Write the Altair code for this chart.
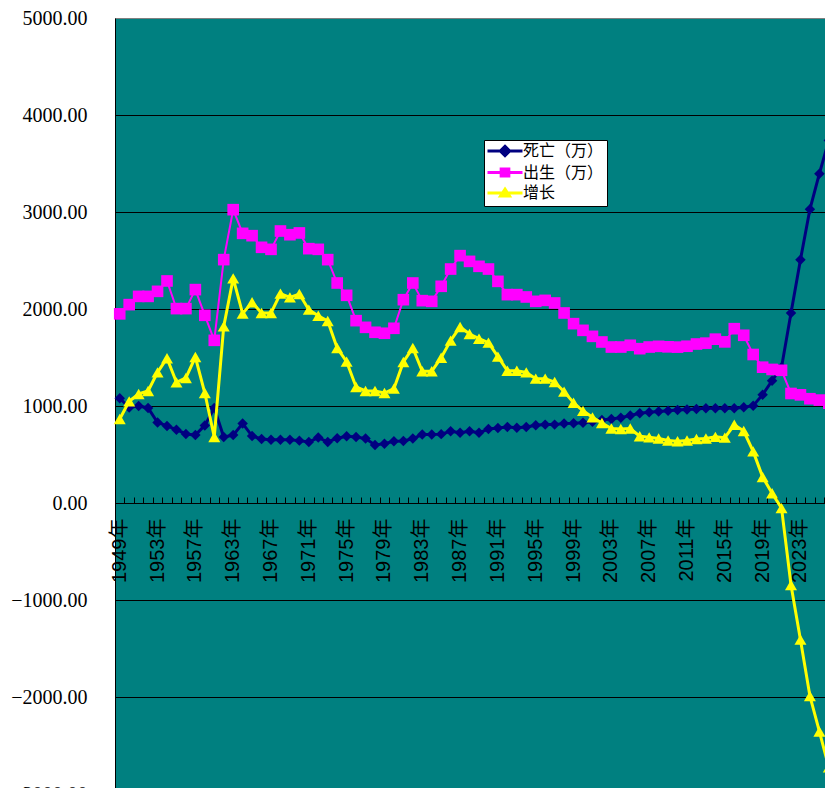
import altair as alt
import pandas as pd

# categories: 1949-1959, then 1962-2027 (1960, 1961 absent in the source)
years = list(range(1949, 1960)) + list(range(1962, 2028))
cats = [f"{y}年" for y in years]

deaths = [1080, 985, 1000, 980, 830, 795, 756, 712, 700, 800, 980,
          680, 700, 820, 690, 660, 653, 653, 653, 643, 629, 675, 629, 667, 688,
          681, 664, 598, 612, 636, 640, 664, 705, 705, 710, 739, 725, 739, 724,
          763, 773, 784, 777, 784, 801, 808, 808, 820, 822, 828, 838, 855, 866,
          880, 902, 925, 935, 944, 950, 958, 965, 970, 977, 977, 977, 977, 987,
          1003, 1117, 1261, 1400, 1959, 2508, 3028, 3395, 3738]
births = [1950, 2045, 2130, 2130, 2182, 2289, 2004, 2004, 2200, 1935, 1677,
          2509, 3024, 2780, 2756, 2636, 2615, 2804, 2766, 2784, 2622, 2615, 2509,
          2268, 2141, 1880, 1811, 1760, 1750, 1801, 2096, 2268, 2086, 2079, 2234,
          2412, 2550, 2491, 2440, 2412, 2285, 2148, 2148, 2124, 2079, 2089, 2062,
          1959, 1849, 1780, 1718, 1660, 1608, 1608, 1626, 1591, 1608, 1615, 1610,
          1607, 1616, 1639, 1648, 1689, 1661, 1797, 1729, 1531, 1400, 1377, 1368,
          1129, 1115, 1075, 1061, 1029]
growth = [866, 1048, 1124, 1155, 1347, 1492, 1244, 1289, 1505, 1134, 681,
          1821, 2316, 1952, 2069, 1959, 1959, 2158, 2120, 2155, 1993, 1931, 1876,
          1598, 1457, 1196, 1155, 1155, 1134, 1179, 1454, 1598, 1358, 1358, 1498,
          1674, 1815, 1742, 1694, 1653, 1509, 1364, 1364, 1347, 1282, 1282, 1248,
          1148, 1033, 950, 883, 825, 768, 763, 768, 688, 677, 665, 645, 636, 645,
          660, 665, 682, 674, 806, 742, 532, 268, 101, -53, -845, -1409, -1990,
          -2355, -2725]

series_names = ["死亡（万）", "出生（万）", "增长"]
series_colors = ["#000080", "#FF00FF", "#FFFF00"]
series_shapes = ["diamond", "square", "triangle-up"]
legend_paths = [
    "M-1.25,0L4.583,0M1.667,-0.78L2.447,0L1.667,0.78L0.887,0Z",
    "M-1.25,0L4.583,0M1.027,-0.58L2.307,-0.58L2.307,0.58L1.027,0.58Z",
    "M-1.25,0L4.583,0M1.667,-0.64L2.417,0.52L0.917,0.52Z",
]
y_ticks = list(range(-3000, 5001, 1000))

rows = []
for name, vals in zip(series_names, [deaths, births, growth]):
    for c, v in zip(cats, vals):
        rows.append({"cat": c, "series": name, "value": v})
df = pd.DataFrame(rows)

xscale = alt.Scale(type="band", domain=cats, paddingInner=0, paddingOuter=0)
yscale = alt.Scale(domain=[-3000, 5000], nice=False, zero=False)

tick_axis = alt.Axis(orient="top", offset=-485, labels=False, ticks=True,
                     tickSize=6, tickBand="extent", tickColor="black",
                     tickWidth=1, domain=True, domainColor="black",
                     domainWidth=1, grid=False, title=None)
label_axis = alt.Axis(orient="bottom", offset=-291, values=cats[::4],
                      labelAngle=270, labelFont="Liberation Sans, Noto Sans CJK SC",
                      labelFontSize=20, labelColor="black", labelPadding=15,
                      ticks=False, tickSize=0, domain=False, grid=False,
                      labelOverlap=False, title=None)
y_axis = alt.Axis(values=y_ticks, format=".2f", labelFont="Liberation Serif",
                  labelFontSize=20, labelColor="black", labelPadding=28,
                  ticks=False, domain=True, domainColor="black", domainWidth=1,
                  grid=True,
                  gridColor={"condition": {"test": "datum.value == 5000", "value": "#808080"},
                             "value": "black"},
                  gridWidth=1, gridOpacity=1, title=None)

base = alt.Chart(df)
layers = []
line_widths = [3, 2, 3]
point_sizes = [110, 135, 144]
for i, (name, col, shp) in enumerate(zip(series_names, series_colors, series_shapes)):
    sub = base.transform_filter(alt.datum.series == name)
    line = sub.mark_line(color=col, strokeWidth=line_widths[i]).encode(
        x=alt.X("cat:N", scale=xscale, bandPosition=0.5,
                axis=tick_axis if i == 0 else None),
        y=alt.Y("value:Q", scale=yscale, axis=y_axis),
    )
    pts = sub.mark_point(shape=shp, filled=True, color=col, opacity=1,
                         size=point_sizes[i]).encode(
        x=alt.X("cat:N", scale=xscale, bandPosition=0.5,
                axis=label_axis if i == 0 else None),
        y=alt.Y("value:Q", scale=yscale, axis=y_axis),
    )
    layers += [line, pts]

leg = alt.Legend(orient="none", legendX=369, legendY=122, direction="vertical",
                 title=None, fillColor="white", strokeColor="black", padding=3,
                 rowPadding=0.5, labelFont="Noto Sans CJK SC", labelFontSize=16,
                 labelColor="black", labelOffset=20, symbolSize=144,
                 symbolStrokeWidth=3, cornerRadius=0)
legend_layer = base.transform_filter("false").mark_point(
    filled=True, opacity=1, size=144, strokeWidth=3).encode(
    fill=alt.Fill("series:N", scale=alt.Scale(domain=series_names, range=series_colors), legend=leg),
    stroke=alt.Stroke("series:N", scale=alt.Scale(domain=series_names, range=series_colors), legend=leg),
    shape=alt.Shape("series:N", scale=alt.Scale(domain=series_names, range=legend_paths), legend=leg),
)
layers.append(legend_layer)

chart = alt.layer(*layers).resolve_axis(x="independent").properties(
    width=728, height=776,
    autosize=alt.AutoSizeParams(type="none"),
    padding={"left": 107, "top": 10, "right": -18, "bottom": -6},
    view=alt.ViewBackground(fill="#008080", stroke="#808080", strokeWidth=1),
).configure(background="white").configure_view(
    fill="#008080", stroke="#808080", strokeWidth=1)

chart.save("out.html", embed_options={"renderer": "svg", "actions": False})
